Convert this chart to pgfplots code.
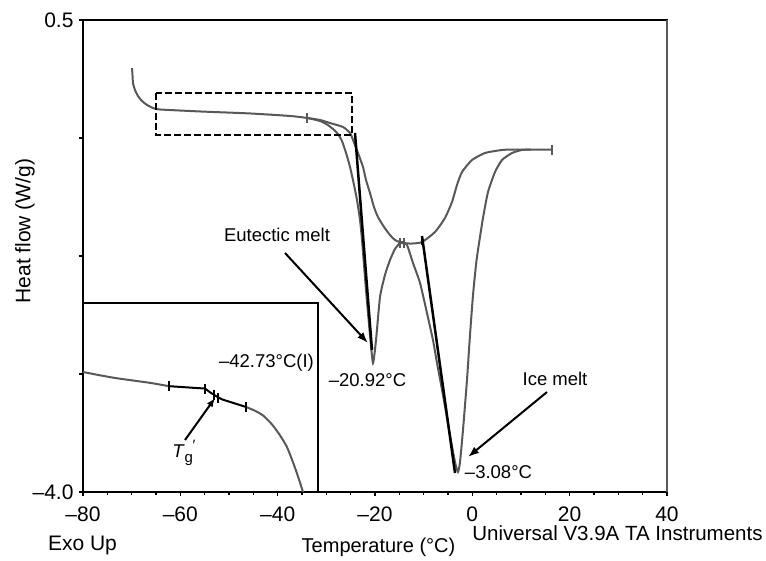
\documentclass[border=0pt]{standalone}
\usepackage{pgfplots}
\pgfplotsset{compat=1.18}
\usetikzlibrary{arrows.meta}
\usepackage{fontspec}
\setmainfont{Liberation Sans}

\definecolor{trace}{RGB}{88,88,88}
\newcommand{\axfont}{\fontsize{21}{25}\selectfont}
\newcommand{\anfont}{\fontsize{18.5}{22}\selectfont}

\begin{document}
\begin{tikzpicture}
\useasboundingbox (0pt,0pt) rectangle (766pt,-561pt);

% main DSC plot
\begin{axis}[
    at={(83pt,-492pt)}, anchor=south west,
    scale only axis, width=584pt, height=472pt,
    xmin=-80, xmax=40, ymin=-4, ymax=0.5,
    xtick={-80,-60,-40,-20,0,20,40},
    xticklabels={–80,–60,–40,–20,0,20,40},
    minor x tick num=3,
    ytick={0.5,-0.625,-1.75,-2.875,-4},
    yticklabels={0.5,,,,–4.0},
    xtick pos=left, ytick pos=left,
    tick align=outside,
    major tick length=4pt, minor tick length=3pt,
    tick style={black, line width=1.2pt},
    axis line style={black, line width=1.5pt},
    tick label style={font=\axfont},
    xticklabel style={yshift=-7pt},
    yticklabel style={xshift=-2pt},
    clip=false,
]
    % trace with eutectic and ice melt peaks
    \addplot[trace, line width=2pt, smooth, tension=0.35] coordinates {
        (-69.93,0.042) (-69.83,-0.024) (-69.73,-0.101) (-69.32,-0.167)
        (-68.70,-0.225) (-67.88,-0.272) (-66.85,-0.310) (-65.62,-0.339)
        (-64.18,-0.353) (-55.96,-0.372) (-45.68,-0.391) (-37.46,-0.415)
        (-33.97,-0.434) (-31.30,-0.463) (-29.86,-0.496) (-28.63,-0.539)
        (-27.60,-0.587) (-26.78,-0.654) (-25.95,-0.768) (-25.13,-0.901)
        (-24.31,-1.073) (-23.70,-1.216) (-23.08,-1.407) (-22.67,-1.597)
        (-21.85,-2.074) (-21.03,-2.503) (-20.41,-2.770)
        (-19.79,-2.551) (-18.97,-2.141) (-17.95,-1.931) (-16.92,-1.788)
        (-15.89,-1.683) (-14.86,-1.626) (-14.25,-1.617) (-13.42,-1.645)
        (-12.19,-1.817) (-10.75,-2.007) (-9.32,-2.293) (-8.09,-2.551)
        (-7.26,-2.770) (-6.03,-3.075) (-4.59,-3.457) (-3.56,-3.714)
        (-2.95,-3.809)
        (-2.53,-3.714) (-1.92,-3.409) (-1.10,-2.932) (-0.48,-2.503)
        (0.14,-2.122) (0.75,-1.836) (1.16,-1.693) (2.19,-1.388)
        (3.22,-1.140) (4.66,-0.949) (6.10,-0.835) (8.15,-0.768)
        (10.21,-0.739) (12.00,-0.736)
    };
    % broad trace
    \addplot[trace, line width=2pt, smooth, tension=0.35] coordinates {
        (-33.97,-0.434) (-31.30,-0.453) (-29.25,-0.482) (-26.58,-0.520)
        (-25.13,-0.577) (-24.52,-0.644) (-23.49,-0.768) (-22.47,-0.901)
        (-21.85,-1.025) (-21.03,-1.149) (-20.21,-1.283) (-19.39,-1.378)
        (-18.15,-1.473) (-16.92,-1.550) (-15.89,-1.597) (-14.45,-1.626)
        (-12.40,-1.631) (-10.34,-1.617) (-7.67,-1.521) (-5.62,-1.388)
        (-4.18,-1.235) (-3.15,-1.073) (-2.12,-0.949) (-0.07,-0.835)
        (2.60,-0.768) (6.10,-0.739) (8.77,-0.735) (16.37,-0.735)
    };
    % analysis ticks on the traces
    \addplot[trace, only marks, mark=|, mark size=5pt, mark options={line width=1.3pt}] coordinates {
        (-33.97,-0.434) (-14.86,-1.626) (-14.04,-1.626) (16.37,-0.735)
    };
    \addplot[black, only marks, mark=|, mark size=4pt, mark options={line width=1.3pt}] coordinates {
        (-10.34,-1.607)
    };
    % tangent lines
    \addplot[black, line width=2.5pt] coordinates {(-24.11,-0.577) (-20.62,-2.646)};
    \addplot[black, line width=2.5pt] coordinates {(-10.34,-1.559) (-3.56,-3.819)};

    % zoom window
    \draw[black, line width=2.5pt, dash pattern=on 7pt off 3pt]
        (axis cs:-65,-0.196) rectangle (axis cs:-24.73,-0.596);

    % annotations
    \draw[-{Latex[length=11pt,width=8pt]}, line width=2pt]
        (axis cs:-38.49,-1.721) -- (axis cs:-21.44,-2.580);
    \node[font=\anfont] at (axis cs:-40.14,-1.550) {Eutectic melt};
    \node[font=\anfont] at (axis cs:-21.54,-2.932) {–20.92°C};
    \draw[-{Latex[length=11pt,width=8pt]}, line width=2pt]
        (axis cs:15.34,-3.047) -- (axis cs:-0.89,-3.666);
    \node[font=\anfont] at (axis cs:16.99,-2.923) {Ice melt};
    \node[font=\anfont] at (axis cs:5.38,-3.809) {–3.08°C};

    \draw[trace, line width=1.5pt] (rel axis cs:1,0) -- (rel axis cs:1,1);
\end{axis}

% inset: magnified dashed window
\begin{axis}[
    at={(83pt,-492pt)}, anchor=south west,
    scale only axis, width=235pt, height=189pt,
    xmin=-65, xmax=-24.7, ymin=-0.596, ymax=-0.196,
    xtick=\empty, ytick=\empty,
    axis line style={black, line width=1.5pt},
    clip=false,
]
    \addplot[trace, line width=2pt, smooth, tension=0.4] coordinates {
        (-65.00,-0.342) (-62.09,-0.349) (-59.34,-0.355) (-56.43,-0.360)
        (-53.51,-0.365) (-50.25,-0.372)
    };
    \addplot[trace, line width=2pt, smooth, tension=0.4] coordinates {
        (-37.05,-0.416) (-35.51,-0.424) (-34.13,-0.434) (-32.59,-0.453)
        (-31.22,-0.476) (-30.02,-0.501) (-28.99,-0.533) (-28.13,-0.563)
        (-27.27,-0.596)
    };
    \addplot[black, line width=2pt] coordinates {
        (-50.25,-0.372) (-46.65,-0.375) (-44.08,-0.377) (-43.22,-0.385)
        (-42.19,-0.393) (-41.16,-0.400) (-37.05,-0.416)
    };
    \addplot[black, only marks, mark=|, mark size=5pt, mark options={line width=1.3pt}] coordinates {
        (-50.25,-0.372) (-44.08,-0.377) (-42.53,-0.391) (-41.85,-0.396) (-37.05,-0.416)
    };
    \draw[-{Latex[length=9pt,width=7pt]}, line width=2pt]
        (axis cs:-47.51,-0.486) -- (axis cs:-42.36,-0.397);
    \node[font=\anfont, inner sep=0pt] at (axis cs:-47.7,-0.513)
        {\textit{T}\raisebox{-0.55ex}{\fontsize{15}{17}\selectfont g}\raisebox{0.7ex}{\fontsize{15}{17}\selectfont\kern-0.02em′}};
    \node[font=\anfont] at (axis cs:-33.53,-0.323) {–42.73°C(I)};
\end{axis}

% outer texts
\node[font=\axfont, rotate=90] at (25pt,-231pt) {Heat flow (W/g)};
\node[font=\axfont] at (82.5pt,-545pt) {Exo Up};
\node[font=\fontsize{20}{24}\selectfont] at (378.5pt,-547pt) {Temperature (°C)};
\node[font=\fontsize{20.5}{24}\selectfont] at (617.5pt,-533pt) {Universal V3.9A TA Instruments};
\end{tikzpicture}
\end{document}
